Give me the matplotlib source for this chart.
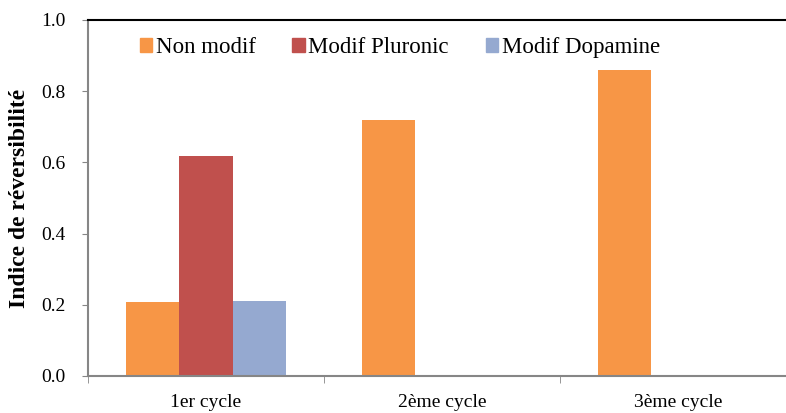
import numpy as np
import matplotlib.pyplot as plt
from matplotlib.patches import Patch

categories = ['1er cycle', '2ème cycle', '3ème cycle']
series_names = ['Non modif', 'Modif Pluronic', 'Modif Dopamine']
non_modif = [0.207, 0.719, 0.86]
pluronic = [0.618, 0, 0]
dopamine = [0.211, 0, 0]
colors = ['#F79646', '#C0504D', '#95A9D0']

plt.rcParams['font.family'] = ['Liberation Serif', 'DejaVu Serif']

fig = plt.figure(figsize=(7.86, 4.13), dpi=100)
# axes extends a bit beyond the right edge, like the original crop
ax = fig.add_axes([88/786, 37/413, 708/786, 356/413])

x = np.arange(len(categories))
w = 0.225
for i, (vals, c) in enumerate(zip([non_modif, pluronic, dopamine], colors)):
    ax.bar(x + (i - 1) * w, vals, w, color=c, label=series_names[i])

ax.set_xlim(-0.5, 2.5)
ax.set_ylim(0, 1.0)
ax.set_yticks(np.arange(0, 1.01, 0.2))
ax.set_yticklabels(['%.1f' % v for v in np.arange(0, 1.01, 0.2)], fontsize=14)
ax.set_xticks(x)
ax.set_xticklabels(categories, fontsize=14)
ax.tick_params(axis='x', length=0, pad=13)
ax.set_xticks(np.arange(-0.5, 3, 1), minor=True)
ax.tick_params(axis='x', which='minor', length=5, color='#868686', direction='out')
ax.tick_params(axis='y', length=4.5, color='#868686', direction='out', pad=11.5)

for s in ['left', 'bottom']:
    ax.spines[s].set_color('#868686')
    ax.spines[s].set_linewidth(1.5)
ax.spines['top'].set_color('black')
ax.spines['top'].set_linewidth(1.5)
ax.spines['right'].set_visible(False)

ax.set_ylabel('Indice de réversibilité', fontsize=17, fontweight='bold', labelpad=8)

handles = [Patch(color=c) for c in colors]
ax.legend(handles, series_names, loc='upper left', bbox_to_anchor=(0.044, 1.009), ncol=3,
          frameon=False, fontsize=16.5, handlelength=0.55, handleheight=0.55,
          handletextpad=0.15, columnspacing=1.6)

fig.savefig('out.png', dpi=100)
